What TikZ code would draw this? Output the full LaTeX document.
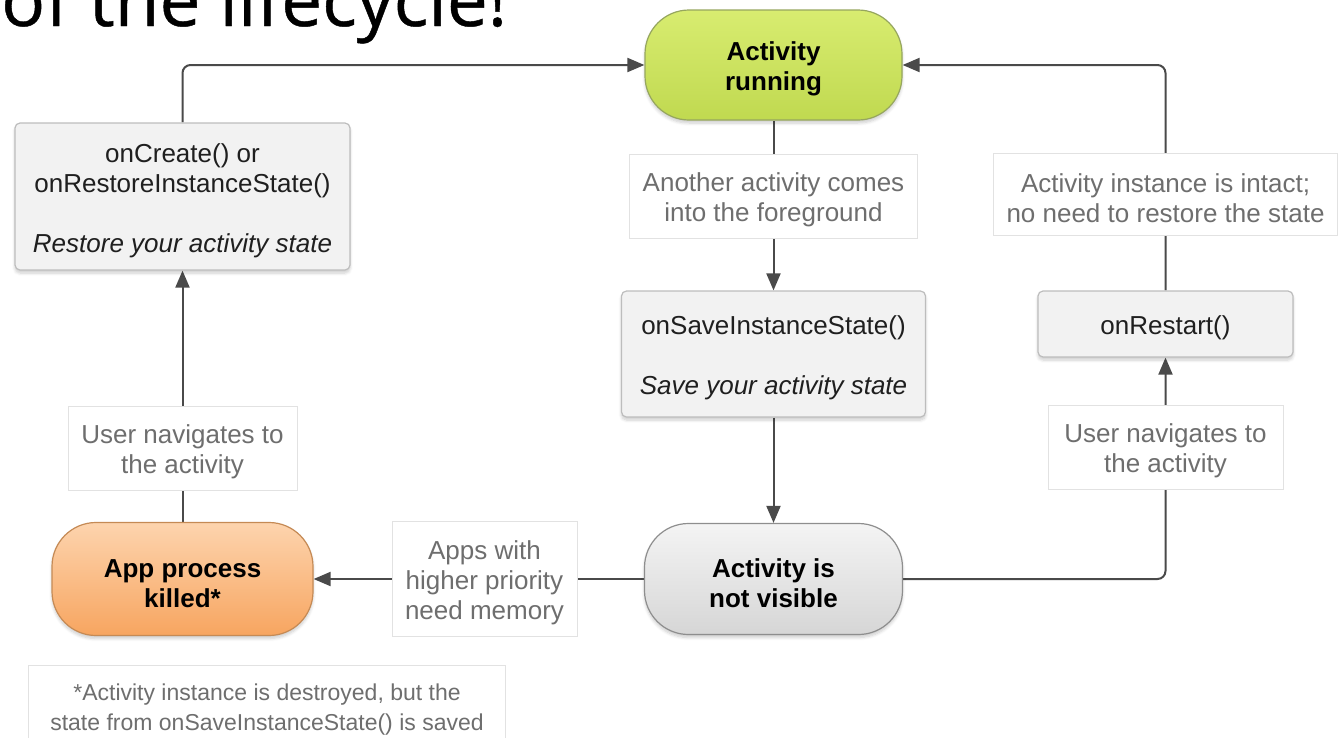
\documentclass[tikz,border=0pt]{standalone}
\usepackage{fontspec}
\setmainfont{Liberation Sans}
\newfontfamily\titlefont[FakeBold=0.6]{Open Sans}
\usetikzlibrary{arrows.meta,backgrounds,shadows.blur}

\definecolor{lineclr}{HTML}{4A4A4A}
\definecolor{labeltext}{HTML}{6E6E6E}
\definecolor{labelborder}{HTML}{E2E2E2}
\definecolor{methodfill}{HTML}{F2F2F2}
\definecolor{methodborder}{HTML}{BDBDBD}
\definecolor{greentop}{HTML}{D8EC70}
\definecolor{greenbot}{HTML}{C0D950}
\definecolor{greenborder}{HTML}{96A65E}
\definecolor{orangetop}{HTML}{FDD4AE}
\definecolor{orangebot}{HTML}{F7A560}
\definecolor{orangeborder}{HTML}{C58A55}
\definecolor{graytop}{HTML}{F4F4F4}
\definecolor{graybot}{HTML}{D6D6D6}
\definecolor{grayborder}{HTML}{8E8E8E}

% extra height on a first line, so the lines sit a little lower in their box
\newcommand\firstline{\rule{0pt}{27pt}}

\tikzset{
  basefont/.style={font=\fontsize{26}{30}\selectfont},
  softshadow/.style={blur shadow={shadow xshift=0pt, shadow yshift=-3pt,
      shadow blur steps=6, shadow blur radius=3pt, shadow opacity=20}},
  state/.style={font=\fontsize{26}{30}\selectfont\bfseries,
      rounded corners=44pt, align=center, line width=1.2pt,
      inner sep=0pt, softshadow},
  method/.style={basefont, draw=methodborder, fill=methodfill, line width=1.2pt,
      rounded corners=5pt, align=center, inner sep=0pt, text=black!88, softshadow},
  note/.style={basefont, draw=labelborder, fill=white, line width=1pt,
      align=center, inner sep=0pt, text=labeltext},
  conn/.style={draw=lineclr, line width=2pt},
  tip/.style={-{Triangle[length=17pt,width=14pt]}},
}

\begin{document}
\begin{tikzpicture}[x=1pt,y=-1pt]
\useasboundingbox (0,0) rectangle (1341,737);
\clip (0,0) rectangle (1341,737);

% heading fragment
\node[anchor=base west, inner sep=0pt, font=\titlefont\fontsize{73}{80}\selectfont]
  (heading) at (1,26) {of the lifecycle!};

% lifecycle states
\node[state, draw=greenborder, top color=greentop, bottom color=greenbot,
      minimum width=257pt, minimum height=110pt] (running) at (773.5,65)
  {\firstline Activity\\running};
\node[state, draw=grayborder, top color=graytop, bottom color=graybot,
      minimum width=258pt, minimum height=111pt] (hidden) at (773.5,579)
  {\firstline Activity is\\not visible};
\node[state, draw=orangeborder, top color=orangetop, bottom color=orangebot,
      minimum width=261pt, minimum height=113pt] (killed) at (182.5,579)
  {\firstline App process\\killed*};

% callback methods
\node[method, minimum width=335pt, minimum height=147pt] (create) at (182.5,196.5)
  {\firstline onCreate() or\\onRestoreInstanceState()\\[30pt]\textit{Restore your activity state}};
\node[method, minimum width=304pt, minimum height=126pt] (save) at (773.5,354)
  {\firstline onSaveInstanceState()\\[30pt]\textit{Save your activity state}};
\node[method, minimum width=255pt, minimum height=66pt] (restart) at (1165.5,324)
  {\firstline onRestart()};

% transition labels
\node[note, minimum width=288pt, minimum height=84pt] (foreground) at (773.5,196)
  {\firstline Another activity comes\\into the foreground};
\node[note, minimum width=344pt, minimum height=82pt] (intact) at (1165.5,194)
  {\firstline Activity instance is intact;\\no need to restore the state};
\node[note, minimum width=229pt, minimum height=84pt] (navleft) at (182.5,448)
  {\firstline User navigates to\\the activity};
\node[note, minimum width=235pt, minimum height=84pt] (navright) at (1165.5,447)
  {\firstline User navigates to\\the activity};
\node[note, minimum width=185pt, minimum height=115pt] (memory) at (484.5,579)
  {\firstline Apps with\\higher priority\\need memory};
\node[note, anchor=north west, minimum width=477pt, inner ysep=18pt,
      font=\fontsize{23}{30}\selectfont] (footnote) at (28,665)
  {*Activity instance is destroyed, but the\\state from onSaveInstanceState() is saved};

% connectors, drawn beneath the boxes
\begin{scope}[on background layer]
  \draw[conn, tip, rounded corners=8pt] (create.north) |- (running.west);
  \draw[conn, tip] (running.south) -- (save.north);
  \draw[conn, tip] (save.south) -- (hidden.north);
  \draw[conn, tip, rounded corners=8pt] (hidden.east) -| (restart.south);
  \draw[conn, tip, rounded corners=8pt] (restart.north) |- (running.east);
  \draw[conn, tip] (hidden.west) -- (killed.east);
  \draw[conn, tip] (killed.north) -- (create.south);
\end{scope}
\end{tikzpicture}
\end{document}
